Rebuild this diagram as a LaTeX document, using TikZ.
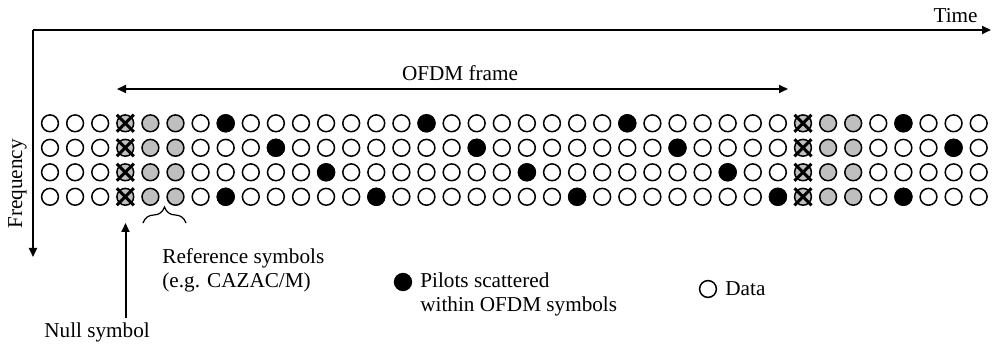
\documentclass[tikz,border=0pt]{standalone}
\usepackage{fontspec}
\setmainfont{Liberation Serif}
\usetikzlibrary{decorations.pathreplacing,arrows.meta}
\begin{document}
\begin{tikzpicture}[x=0.5pt,y=-0.5pt,
  font=\fontsize{10.6}{12}\selectfont,
  sym/.style={circle,draw=black,line width=0.75pt,inner sep=0pt,minimum size=8.4pt},
  dat/.style={sym,fill=white},
  pil/.style={sym,fill=black},
  refs/.style={sym,fill=black!25},
  nul/.style={sym,fill=black!25},
  axis/.style={line width=1pt,-{Triangle[length=4.5pt,width=4pt]}},
  lbl/.style={inner sep=0pt}]
\useasboundingbox (0,0) rectangle (992,347);
% axes
\coordinate (O) at (33,30);
\coordinate (T) at (991,30);
\coordinate (F) at (33,257);
\draw[axis] (O) -- (T);
\draw[axis] (O) -- (F);
\node[lbl,anchor=base east] (time) at (978,23) {Time};
\node[lbl,rotate=90,anchor=base] (freq) at (22,184) {Frequency};
% OFDM frame arrow
\coordinate (fa) at (117,89);
\coordinate (fb) at (788,89);
\draw[line width=1pt,{Triangle[length=4.5pt,width=4pt]}-{Triangle[length=4.5pt,width=4pt]}] (fa) -- (fb);
\node[lbl,anchor=base] (frame) at (460,81) {OFDM frame};
% grid
\foreach \r/\blist in {0/{7,15,23,34},1/{9,17,25,36},2/{11,19,27},3/{7,13,21,29,34}}{
  \foreach \c in {0,...,37}{
    \pgfmathsetmacro{\xx}{50+25.1*\c}
    \pgfmathsetmacro{\yy}{123.3+24.5*\r}
    \def\kind{dat}
    \ifnum\c=3 \def\kind{nul}\fi
    \ifnum\c=30 \def\kind{nul}\fi
    \ifnum\c=4 \def\kind{refs}\fi
    \ifnum\c=5 \def\kind{refs}\fi
    \ifnum\c=31 \def\kind{refs}\fi
    \ifnum\c=32 \def\kind{refs}\fi
    \node[\kind] (s-\r-\c) at (\xx,\yy) {};
  }
  \foreach \b in \blist {
    \pgfmathsetmacro{\xx}{50+25.1*\b}
    \pgfmathsetmacro{\yy}{123.3+24.5*\r}
    \node[pil] (p-\r-\b) at (\xx,\yy) {};
  }
}
% crosses on null symbols
\foreach \r in {0,...,3}{
  \foreach \c in {3,30}{
    \draw[line width=1.5pt] ([shift={(-8.5,-8.5)}]s-\r-\c.center) -- ([shift={(8.5,8.5)}]s-\r-\c.center);
    \draw[line width=1.5pt] ([shift={(-8.5,8.5)}]s-\r-\c.center) -- ([shift={(8.5,-8.5)}]s-\r-\c.center);
  }
}
% brace under reference symbols
\coordinate (ba) at (143,223);
\coordinate (bb) at (186,223);
\draw[line width=0.6pt,decorate,decoration={brace,amplitude=8pt}] (ba) -- (bb);
\node[lbl,anchor=base west,align=left] (reftxt) at (162,288) {Reference symbols\\(e.g. CAZAC/M)};
% null symbol arrow
\coordinate (na) at (125.5,318);
\coordinate (nb) at (125.5,223);
\draw[line width=1pt,-{Triangle[length=4.5pt,width=4pt]}] (na) -- (nb);
\node[lbl,anchor=base west] (nultxt) at (44,338) {Null symbol};
% legend
\node[pil] (lp) at (403,282) {};
\node[lbl,anchor=base west,align=left] (lptxt) at (420,312) {Pilots scattered\\within OFDM symbols};
\node[dat] (ld) at (708,289) {};
\node[lbl,anchor=base west] (ldtxt) at (725,296) {Data};
\end{tikzpicture}
\end{document}
